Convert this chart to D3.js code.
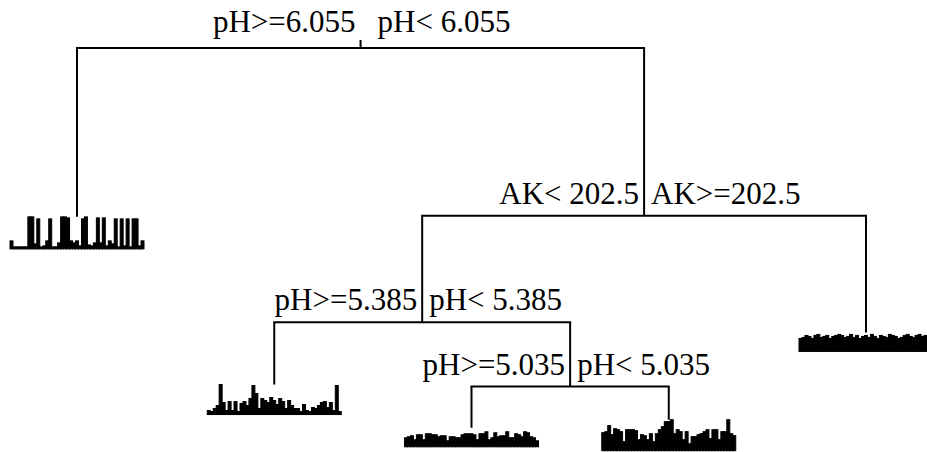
<!DOCTYPE html>
<html>
<head>
<meta charset="utf-8">
<script src="https://cdn.jsdelivr.net/npm/d3@7/dist/d3.min.js"></script>
<style>
  html, body { margin: 0; padding: 0; background: #fff; }
  svg { display: block; }
</style>
</head>
<body>
<svg id="chart" width="927" height="452"></svg>
<script>
// ---- DATA ----
// rpart-style node numbers
const nodeIds      = [1, 2, 3, 6, 7, 12, 13, 26, 27];
// relative node height (error remaining) used for vertical placement
const nodeHeight   = [1.000, 0.582, 0.585, 0.321, 0.296, 0.167, 0.162, 0.060, 0.080];
// internal nodes and their split labels
const splitNodes   = [1, 3, 6, 13];
const leftLabels   = ["pH>=6.055", "AK< 202.5", "pH>=5.385", "pH>=5.035"];
const rightLabels  = ["pH< 6.055", "AK>=202.5", "pH< 5.385", "pH< 5.035"];
// leaves in left-to-right order
const leafOrder    = [2, 12, 26, 27, 7];
// mean species abundance in each leaf (45 species)
const leaf2  = [8,2,2,2,2,2,32,32,5,30,2,3,8,30,2,2,6,32,32,31,8,6,8,3,30,32,4,3,6,31,6,31,3,8,5,30,2,30,3,30,2,30,30,3,8];
const leaf12 = [4,3,6,9,30,12,4,13,4,13,3,11,13,9,16,29,21,6,16,14,12,17,14,10,16,13,6,14,9,6,6,3,10,4,3,7,6,9,12,13,7,12,4,29,3];
const leaf26 = [9,10,11,7,12,12,7,13,13,12,12,10,11,11,6,10,10,9,9,12,13,13,13,12,7,13,13,15,7,9,14,10,11,11,15,9,9,13,12,10,15,14,10,9,6];
const leaf27 = [18,19,25,16,22,21,19,9,21,21,21,20,11,16,15,11,17,9,17,21,24,29,29,31,17,21,19,11,19,7,14,14,16,17,19,21,12,21,21,11,19,19,31,17,15];
const leaf7  = [13,14,16,15,13,16,17,14,15,16,13,15,16,17,16,14,15,17,14,16,13,15,16,14,17,15,13,16,15,14,17,16,15,13,14,16,17,15,14,16,17,15,16,14,15];
const leafValues = {2: leaf2, 12: leaf12, 26: leaf26, 27: leaf27, 7: leaf7};

// ---- LAYOUT ----
const svg = d3.select("#chart");
const x = d3.scaleLinear().domain([1, 5]).range([77, 866]);
const y = d3.scaleLinear().domain([0, 1]).range([452, 48]);
const allVals = [].concat(leaf2, leaf12, leaf26, leaf27, leaf7);
const barH = d3.scaleLinear().domain([0, d3.max(allVals)]).range([0, 32]);
const leafWidth = 134;
const minBox = 19;
const font = "'Liberation Serif', 'Times New Roman', serif";

const heightOf = {};
nodeIds.forEach((id, i) => heightOf[id] = nodeHeight[i]);
const xOf = {};
leafOrder.forEach((id, i) => xOf[id] = x(i + 1));
function computeX(id) {
  if (xOf[id] !== undefined) return xOf[id];
  const v = (computeX(2 * id) + computeX(2 * id + 1)) / 2;
  xOf[id] = v;
  return v;
}
computeX(1);

const lineColor = "#000";
const lw = 2;
const g = svg.append("g");

// root stub
g.append("line")
  .attr("x1", xOf[1]).attr("x2", xOf[1])
  .attr("y1", y(heightOf[1]) - 8).attr("y2", y(heightOf[1]))
  .attr("stroke", lineColor).attr("stroke-width", lw);

splitNodes.forEach((id, i) => {
  const ny = y(heightOf[id]);
  const lx = xOf[2 * id], rx = xOf[2 * id + 1];
  g.append("line")
    .attr("x1", lx).attr("x2", rx).attr("y1", ny).attr("y2", ny)
    .attr("stroke", lineColor).attr("stroke-width", lw).attr("stroke-linecap", "square");
  [2 * id, 2 * id + 1].forEach(c => {
    g.append("line")
      .attr("x1", xOf[c]).attr("x2", xOf[c])
      .attr("y1", ny).attr("y2", y(heightOf[c]))
      .attr("stroke", lineColor).attr("stroke-width", lw);
  });
  const gapR = id === 1 ? 17 : 7;
  const dy = id === 1 ? 16 : 12;
  g.append("text")
    .attr("x", xOf[id] - 5).attr("y", ny - dy)
    .attr("text-anchor", "end")
    .attr("font-family", font)
    .attr("font-size", 31)
    .text(leftLabels[i]);
  g.append("text")
    .attr("x", xOf[id] + gapR).attr("y", ny - dy)
    .attr("text-anchor", "start")
    .attr("font-family", font)
    .attr("font-size", 31)
    .text(rightLabels[i]);
});

// leaf barplots
leafOrder.forEach(id => {
  const vals = leafValues[id];
  const top = y(heightOf[id]);
  const base = top + Math.max(barH(d3.max(vals)), minBox);
  const band = d3.scaleBand()
    .domain(d3.range(vals.length))
    .range([xOf[id] - leafWidth / 2, xOf[id] + leafWidth / 2])
    .paddingInner(0);
  g.append("g").selectAll("rect")
    .data(vals)
    .join("rect")
    .attr("x", (d, i) => band(i))
    .attr("width", band.bandwidth())
    .attr("y", d => base - barH(d))
    .attr("height", d => barH(d))
    .attr("fill", "#000")
    .attr("stroke", "#000")
    .attr("stroke-width", 1);
});
</script>
</body>
</html>
